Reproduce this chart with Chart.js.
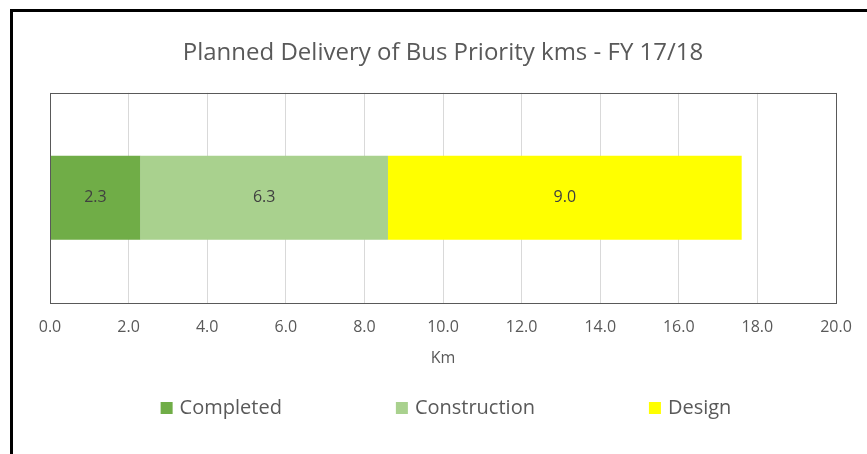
<!DOCTYPE html>
<html>
<head>
<meta charset="utf-8">
<script src="https://cdn.jsdelivr.net/npm/chart.js@4.4.1/dist/chart.umd.min.js"></script>
<style>
  html, body { margin: 0; padding: 0; background: #fff; overflow: hidden; }
  #frame {
    position: absolute; left: 10px; top: 9px;
    width: 869px; height: 445px;
    border-left: 3px solid #000; border-top: 3px solid #000;
  }
  #wrap { position: absolute; left: 0; top: 0; width: 866px; height: 442px; }
</style>
</head>
<body>
<div id="frame"><div id="wrap"><canvas id="busChart"></canvas></div></div>
<script>
// datos del gráfico
const categories = [''];
const seriesNames = ['Completed', 'Construction', 'Design'];
const completed = [2.3];
const construction = [6.3];
const design = [9.0];
const seriesColors = ['#70ad47', '#a9d18e', '#ffff00'];

const FONT = "'Open Sans', sans-serif";

// marco del área de trazado
const plotFrame = {
    id: 'plotFrame',
    afterDraw(chart) {
        const a = chart.chartArea;
        const ctx = chart.ctx;
        ctx.save();
        ctx.strokeStyle = '#595959';
        ctx.lineWidth = 1;
        ctx.strokeRect(Math.round(a.left) + 0.5, Math.round(a.top) + 0.5,
            Math.round(a.right - a.left), Math.round(a.bottom - a.top));
        ctx.restore();
    }
};

// etiquetas de valor en el centro de cada segmento
const valueLabels = {
    id: 'valueLabels',
    afterDatasetsDraw(chart) {
        const ctx = chart.ctx;
        ctx.save();
        ctx.font = '16px ' + FONT;
        ctx.fillStyle = '#404040';
        ctx.textAlign = 'center';
        ctx.textBaseline = 'middle';
        chart.data.datasets.forEach((ds, i) => {
            chart.getDatasetMeta(i).data.forEach((bar, j) => {
                const p = bar.getProps(['x', 'y', 'base'], true);
                ctx.fillText(ds.data[j].toFixed(1), (p.x + p.base) / 2, p.y);
            });
        });
        ctx.restore();
    }
};

// leyenda inferior con espaciado amplio
const wideLegend = {
    id: 'wideLegend',
    afterDraw(chart) {
        const ctx = chart.ctx;
        const box = 12, gapText = 7, gapItem = 114;
        ctx.save();
        ctx.font = '20px ' + FONT;
        const items = chart.data.datasets.map(ds => ({
            text: ds.label, color: ds.backgroundColor, w: ctx.measureText(ds.label).width
        }));
        let total = 0;
        items.forEach((it, i) => { total += box + gapText + it.w + (i < items.length - 1 ? gapItem : 0); });
        let x = chart.width / 2 - total / 2;
        const y = chart.height - 46;
        ctx.textBaseline = 'middle';
        items.forEach(it => {
            ctx.fillStyle = it.color;
            ctx.fillRect(x, y - box / 2, box, box);
            x += box + gapText;
            ctx.fillStyle = '#595959';
            ctx.fillText(it.text, x, y);
            x += it.w + gapItem;
        });
        ctx.restore();
    }
};

const ctx = document.getElementById('busChart').getContext('2d');
new Chart(ctx, {
    type: 'bar',
    data: {
        labels: categories,
        datasets: [
            { label: seriesNames[0], data: completed, backgroundColor: seriesColors[0] },
            { label: seriesNames[1], data: construction, backgroundColor: seriesColors[1] },
            { label: seriesNames[2], data: design, backgroundColor: seriesColors[2] }
        ]
    },
    options: {
        indexAxis: 'y',
        responsive: true,
        maintainAspectRatio: false,
        animation: false,
        datasets: {
            bar: { barPercentage: 0.4, categoryPercentage: 1.0, borderWidth: 0 }
        },
        layout: {
            padding: { left: 37, right: 43, top: 0, bottom: 86 }
        },
        plugins: {
            legend: { display: false },
            tooltip: { enabled: false },
            title: {
                display: true,
                text: 'Planned Delivery of Bus Priority kms - FY 17/18',
                color: '#595959',
                font: { family: FONT, size: 24, weight: 'normal' },
                padding: { top: 27, bottom: 25 }
            }
        },
        scales: {
            x: {
                stacked: true,
                min: 0,
                max: 20,
                ticks: {
                    stepSize: 2,
                    padding: 15,
                    color: '#595959',
                    font: { family: FONT, size: 16 },
                    callback: v => v.toFixed(1)
                },
                grid: { color: '#d9d9d9', drawTicks: false },
                border: { display: false },
                title: {
                    display: true,
                    text: 'Km',
                    color: '#595959',
                    font: { family: FONT, size: 16 },
                    padding: { top: -3, bottom: 0 }
                }
            },
            y: {
                stacked: true,
                display: false
            }
        }
    },
    plugins: [plotFrame, valueLabels, wideLegend]
});
</script>
</body>
</html>
